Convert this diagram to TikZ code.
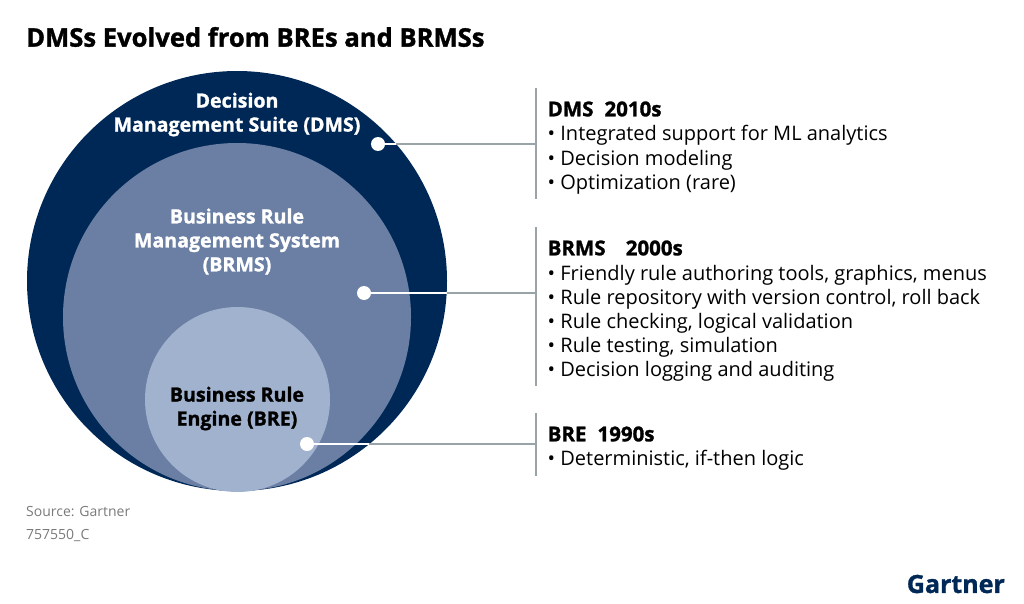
\documentclass[tikz,border=0pt]{standalone}
\usepackage{fontspec}
\setmainfont{Open Sans}[BoldFeatures={FakeBold=1.3}]
\definecolor{navy}{HTML}{002856}
\definecolor{midblue}{HTML}{6A7FA3}
\definecolor{paleblue}{HTML}{A0B2CE}
\definecolor{rulegray}{HTML}{9AA3A8}
\definecolor{sourcegray}{HTML}{7A7A7A}
\begin{document}
\begin{tikzpicture}[x=1pt,y=-1pt,
  ring node/.style={circle,inner sep=0pt,draw=none},
  ring label/.style={align=center,font=\fontsize{19.6}{24}\selectfont\bfseries},
  dot node/.style={circle,fill=white,inner sep=0pt,minimum size=14pt},
  head node/.style={anchor=west,inner sep=0pt,font=\fontsize{20.5}{24}\selectfont\bfseries},
  item node/.style={anchor=west,inner sep=0pt,font=\fontsize{20}{24}\selectfont},
  rule line/.style={draw=rulegray,line width=1.4pt},
  link line/.style={draw=rulegray,line width=1.4pt},
  inner line/.style={draw=white,line width=1.4pt},
  note node/.style={anchor=west,inner sep=0pt,text=sourcegray,font=\fontsize{14}{16}\selectfont}]

  \useasboundingbox (0,0) rectangle (1024,604);
  \node[anchor=west,inner sep=0pt,font=\fontsize{25.6}{30}\selectfont\bfseries] (title) at (26,37) {DMSs Evolved from BREs and BRMSs};

  % circles
  \node[ring node,fill=navy,minimum size=420pt] (dms) at (237,281) {};
  \node[ring node,fill=midblue,minimum size=348pt] (brms) at (237,317) {};
  \node[ring node,fill=paleblue,minimum size=185pt] (bre) at (237.5,399.5) {};

  \node[ring label,text=white] (dmslabel) at (237,114.5) {Decision\\Management Suite (DMS)};
  \node[ring label,text=white] (brmslabel) at (237,241.5) {Business Rule\\Management System\\(BRMS)};
  \node[ring label,text=black] (brelabel) at (237,408.5) {Business Rule\\Engine (BRE)};

  % rules on the right
  \coordinate (top1) at (536,88);
  \coordinate (bot1) at (536,199);
  \coordinate (top2) at (536,227);
  \coordinate (bot2) at (536,386);
  \coordinate (top3) at (536,413);
  \coordinate (bot3) at (536,476);
  \coordinate (end1) at (536,144);
  \coordinate (end2) at (536,293);
  \coordinate (end3) at (536,444);
  \coordinate (rim1) at (396,144);
  \coordinate (rim2) at (446.7,293);
  \coordinate (rim3) at (369.4,444);
  \path[rule line] (top1) edge (bot1) (top2) edge (bot2) (top3) edge (bot3);

  \node[dot node] (dot1) at (378,144) {};
  \node[dot node] (dot2) at (364,293) {};
  \node[dot node] (dot3) at (307,444) {};
  \path[inner line] (dot1) edge (rim1) (dot2) edge (rim2) (dot3) edge (rim3);
  \path[link line] (rim1) edge (end1) (rim2) edge (end2) (rim3) edge (end3);

  % text blocks
  \node[head node] (head1) at (547.5,109) {DMS\; 2010s};
  \node[item node] (item11) at (547.5,135.5) {• Integrated support for ML analytics};
  \node[item node] (item12) at (547.5,160) {• Decision modeling};
  \node[item node] (item13) at (547.5,184.5) {• Optimization (rare)};

  \node[head node] (head2) at (547.5,248) {BRMS\;\;\, 2000s};
  \node[item node] (item21) at (547.5,275) {• Friendly rule authoring tools, graphics, menus};
  \node[item node] (item22) at (547.5,299) {• Rule repository with version control, roll back};
  \node[item node] (item23) at (547.5,323) {• Rule checking, logical validation};
  \node[item node] (item24) at (547.5,347) {• Rule testing, simulation};
  \node[item node] (item25) at (547.5,371.5) {• Decision logging and auditing};

  \node[head node] (head3) at (547.5,434) {BRE\; 1990s};
  \node[item node] (item31) at (547.5,460.5) {• Deterministic, if-then logic};

  \node[note node] (source) at (26,511.5) {Source: Gartner};
  \node[note node] (code) at (26,535.5) {757550\_C};
  \node[anchor=east,inner sep=0pt,text=navy,font=\fontsize{25}{30}\selectfont\bfseries] (logo) at (1005,584) {Gartner};
\end{tikzpicture}
\end{document}
